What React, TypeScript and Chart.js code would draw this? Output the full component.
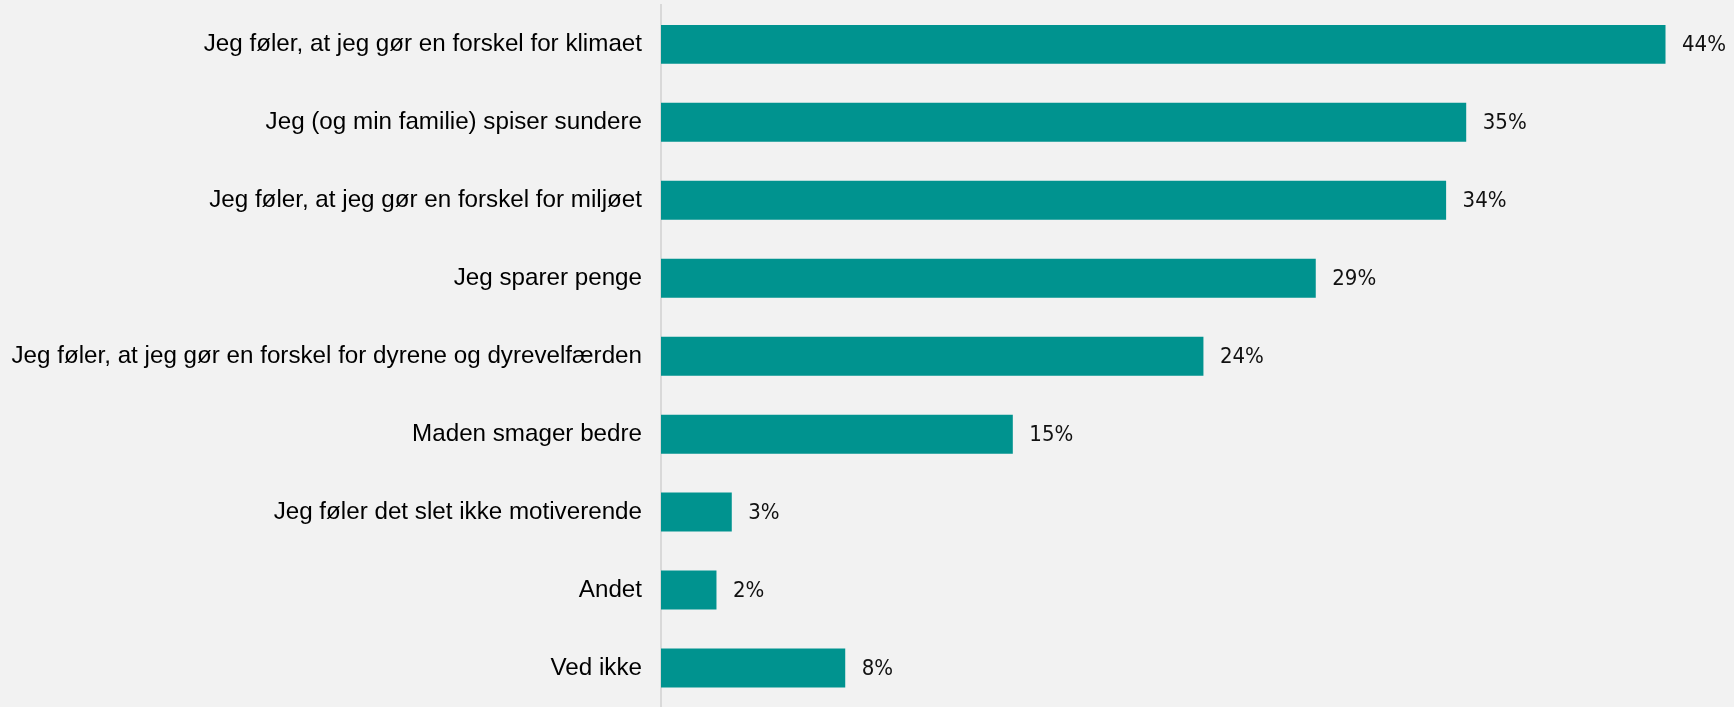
import React, { useEffect, useRef } from "react";
import { Chart, registerables } from "chart.js";

Chart.register(...registerables);

const categories: string[] = [
  "Jeg føler, at jeg gør en forskel for klimaet",
  "Jeg (og min familie) spiser sundere",
  "Jeg føler, at jeg gør en forskel for miljøet",
  "Jeg sparer penge",
  "Jeg føler, at jeg gør en forskel for dyrene og dyrevelfærden",
  "Maden smager bedre",
  "Jeg føler det slet ikke motiverende",
  "Andet",
  "Ved ikke",
];

const values: number[] = [44.0, 35.27, 34.39, 28.68, 23.76, 15.41, 3.1, 2.43, 8.07];

const xMax = 47;

const valueLabelPlugin = {
  id: "valueLabels",
  afterDatasetsDraw(chart: any) {
    const { ctx } = chart;
    const meta = chart.getDatasetMeta(0);
    ctx.save();
    ctx.font = '22px "Liberation Sans Narrow", "DejaVu Sans Condensed", sans-serif';
    ctx.fillStyle = "#111111";
    ctx.textAlign = "left";
    ctx.textBaseline = "middle";
    meta.data.forEach((bar: any, i: number) => {
      const v = values[i];
      ctx.fillText(Math.round(v) + "%", bar.x + 16.5, bar.y + 1);
    });
    ctx.restore();
  },
};

export default function App() {
  const canvasRef = useRef<HTMLCanvasElement | null>(null);

  useEffect(() => {
    document.body.style.margin = "0";
    document.body.style.background = "#f2f2f2";
    const canvas = canvasRef.current;
    if (!canvas) return;
    const chart = new Chart(canvas, {
      type: "bar",
      data: {
        labels: categories,
        datasets: [
          {
            data: values,
            backgroundColor: "#00938f",
            borderWidth: 0,
            barPercentage: 0.5,
            categoryPercentage: 1,
          },
        ],
      },
      options: {
        indexAxis: "y",
        animation: false,
        responsive: false,
        maintainAspectRatio: false,
        layout: { padding: { top: 5.4, bottom: -1.6, left: 0, right: 0 } },
        plugins: {
          legend: { display: false },
          tooltip: { enabled: false },
        },
        scales: {
          x: {
            display: false,
            min: 0,
            max: xMax,
          },
          y: {
            afterFit: (scale: any) => {
              scale.width = 661;
              scale.paddingTop = 0;
              scale.paddingBottom = 0;
            },
            grid: { display: false, drawTicks: false },
            border: { display: true, color: "#d9d9d9", width: 2 },
            ticks: {
              padding: 19,
              color: "#000000",
              font: { family: '"Liberation Sans", Arial, sans-serif', size: 24.2 },
            },
          },
        },
      },
      plugins: [valueLabelPlugin],
    });
    return () => chart.destroy();
  }, []);

  return (
    <div style={{ width: 1734, height: 707, background: "#f2f2f2" }}>
      <canvas ref={canvasRef} width={1734} height={707} style={{ display: "block" }} />
    </div>
  );
}
